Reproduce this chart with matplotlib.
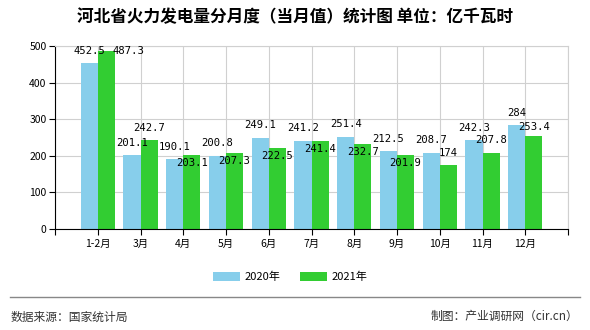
import matplotlib.pyplot as plt
import numpy as np

plt.rcParams['font.family'] = ['Noto Sans CJK SC', 'DejaVu Sans']

months = ["1-2月", "3月", "4月", "5月", "6月", "7月", "8月", "9月", "10月", "11月", "12月"]
values_2020 = [452.5, 201.1, 190.1, 200.8, 249.1, 241.2, 251.4, 212.5, 208.7, 242.3, 284]
values_2021 = [487.3, 242.7, 203.1, 207.3, 222.5, 241.4, 232.7, 201.9, 174, 207.8, 253.4]
y_ticks = [0, 100, 200, 300, 400, 500]

# label offsets in points (dx, dy) so labels don't collide
off_2020 = [(0, 9)] * 11
off_2021 = [(16, 0), (0, 9), (0, -6), (0, -6), (0, -6), (0, -6),
            (0, -6), (0, -6), (0, 9), (0, 9), (0, 7)]

c2020 = "#87CEEB"
c2021 = "#32CD32"


def main():
    fig = plt.figure(figsize=(5.9, 3.3), dpi=100)
    ax = fig.add_axes([55 / 590, 1 - 229 / 330, 513 / 590, 183 / 330])

    n = len(months)
    x = np.arange(1, n + 1)
    w = 0.4
    ax.bar(x - w / 2, values_2020, w, color=c2020, label="2020年", zorder=2)
    ax.bar(x + w / 2, values_2021, w, color=c2021, label="2021年", zorder=2)

    for i in range(n):
        for xv, val, off in ((x[i] - w / 2, values_2020[i], off_2020[i]),
                             (x[i] + w / 2, values_2021[i], off_2021[i])):
            ax.annotate(f"{val:g}", (xv, val), xytext=off, textcoords="offset points",
                        ha="center", va="center", fontsize=7.6,
                        family="DejaVu Sans Mono", zorder=3)

    ax.set_xlim(0, n + 1)
    ax.set_ylim(0, 500)
    ax.set_yticks(y_ticks)
    ax.set_xticks(np.arange(0, n + 2))
    ax.set_xticklabels([""] + months + [""])
    ax.tick_params(axis="x", length=4, labelsize=7.5, pad=3)
    ax.tick_params(axis="y", length=4, labelsize=7.5, pad=2)

    ax.grid(color="#d0d0d0", lw=0.8, zorder=0)
    for s in ("top", "right"):
        ax.spines[s].set_color("#d0d0d0")
    ax.spines["left"].set_color("black")
    ax.spines["bottom"].set_color("black")

    fig.text(0.5, 1 - 17 / 330, "河北省火力发电量分月度（当月值）统计图 单位：亿千瓦时",
             ha="center", va="center", fontsize=12, fontweight="bold")

    fig.legend(loc="center", bbox_to_anchor=(290 / 590, 1 - 277 / 330), ncol=2,
               frameon=False, fontsize=8, handlelength=2.4, handleheight=0.8,
               columnspacing=1.8, handletextpad=0.4)

    fig.add_artist(plt.Line2D([10 / 590, 580 / 590], [1 - 297 / 330] * 2,
                              color="#888888", lw=1))
    fig.text(11 / 590, 1 - 317 / 330, "数据来源：国家统计局", ha="left", va="center",
             fontsize=8.5, color="#333333")
    fig.text(578 / 590, 1 - 316 / 330, "制图：产业调研网（cir.cn）", ha="right",
             va="center", fontsize=8.5, color="#333333")

    fig.savefig("out.png", dpi=100)


if __name__ == "__main__":
    main()
